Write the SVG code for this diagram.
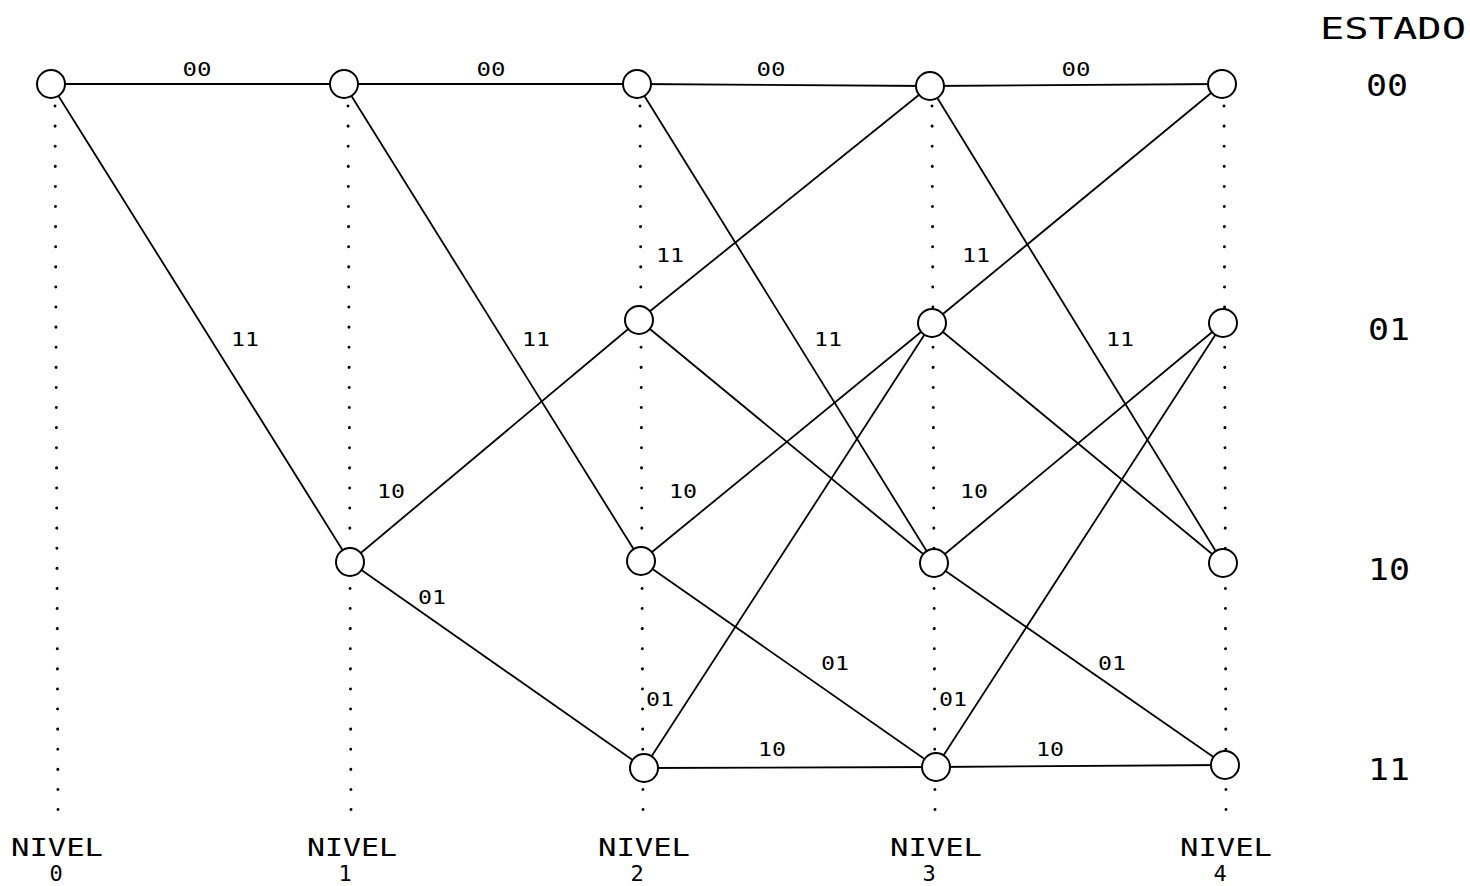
<svg xmlns="http://www.w3.org/2000/svg" width="1470" height="886" viewBox="0 0 1470 886">
<style>
.e{stroke:#000;stroke-width:1.8;fill:none}
.d{stroke:#000;stroke-width:3;stroke-linecap:round;stroke-dasharray:0.1 20;fill:none}
.n{fill:#fff;stroke:#000;stroke-width:2}
.t{font-family:"DejaVu Sans Mono","Liberation Mono",monospace;fill:#000;text-anchor:middle}
.el{font-size:19px}
.lv{font-size:24px}
.dg{font-size:22px}
.st{font-size:30px}
</style>
<rect width="1470" height="886" fill="#fff"/>
<g id="grid">
<line class="d" x1="55" y1="106" x2="58" y2="812"/>
<line class="d" x1="348" y1="106" x2="351" y2="812"/>
<line class="d" x1="640" y1="106" x2="643" y2="812"/>
<line class="d" x1="932" y1="106" x2="935" y2="812"/>
<line class="d" x1="1224" y1="106" x2="1226" y2="812"/>
</g>
<g id="connectors">
<line class="e" x1="51" y1="84" x2="344" y2="84"/>
<line class="e" x1="51" y1="84" x2="350" y2="562"/>
<line class="e" x1="344" y1="84" x2="637" y2="84"/>
<line class="e" x1="344" y1="84" x2="641" y2="561"/>
<line class="e" x1="350" y1="562" x2="639" y2="320"/>
<line class="e" x1="350" y1="562" x2="644" y2="768"/>
<line class="e" x1="637" y1="84" x2="930" y2="86"/>
<line class="e" x1="637" y1="84" x2="934" y2="563"/>
<line class="e" x1="639" y1="320" x2="930" y2="86"/>
<line class="e" x1="639" y1="320" x2="934" y2="563"/>
<line class="e" x1="641" y1="561" x2="932" y2="323"/>
<line class="e" x1="641" y1="561" x2="936" y2="767"/>
<line class="e" x1="644" y1="768" x2="932" y2="323"/>
<line class="e" x1="644" y1="768" x2="936" y2="767"/>
<line class="e" x1="930" y1="86" x2="1222" y2="84"/>
<line class="e" x1="930" y1="86" x2="1223" y2="563"/>
<line class="e" x1="932" y1="323" x2="1222" y2="84"/>
<line class="e" x1="932" y1="323" x2="1223" y2="563"/>
<line class="e" x1="934" y1="563" x2="1223" y2="323"/>
<line class="e" x1="934" y1="563" x2="1225" y2="765"/>
<line class="e" x1="936" y1="767" x2="1223" y2="323"/>
<line class="e" x1="936" y1="767" x2="1225" y2="765"/>
</g>
<g id="edge-labels">
<text class="t el" x="197" y="76" textLength="29" lengthAdjust="spacingAndGlyphs">00</text>
<text class="t el" x="491" y="76" textLength="29" lengthAdjust="spacingAndGlyphs">00</text>
<text class="t el" x="771" y="76" textLength="29" lengthAdjust="spacingAndGlyphs">00</text>
<text class="t el" x="1076" y="76" textLength="29" lengthAdjust="spacingAndGlyphs">00</text>
<text class="t el" x="245" y="346" textLength="28" lengthAdjust="spacingAndGlyphs">11</text>
<text class="t el" x="536" y="346" textLength="28" lengthAdjust="spacingAndGlyphs">11</text>
<text class="t el" x="828" y="346" textLength="28" lengthAdjust="spacingAndGlyphs">11</text>
<text class="t el" x="1120" y="346" textLength="28" lengthAdjust="spacingAndGlyphs">11</text>
<text class="t el" x="670" y="262" textLength="28" lengthAdjust="spacingAndGlyphs">11</text>
<text class="t el" x="976" y="262" textLength="28" lengthAdjust="spacingAndGlyphs">11</text>
<text class="t el" x="391" y="498" textLength="28" lengthAdjust="spacingAndGlyphs">10</text>
<text class="t el" x="683" y="498" textLength="28" lengthAdjust="spacingAndGlyphs">10</text>
<text class="t el" x="974" y="498" textLength="28" lengthAdjust="spacingAndGlyphs">10</text>
<text class="t el" x="432" y="604" textLength="28" lengthAdjust="spacingAndGlyphs">01</text>
<text class="t el" x="835" y="670" textLength="28" lengthAdjust="spacingAndGlyphs">01</text>
<text class="t el" x="1112" y="670" textLength="28" lengthAdjust="spacingAndGlyphs">01</text>
<text class="t el" x="660" y="706" textLength="28" lengthAdjust="spacingAndGlyphs">01</text>
<text class="t el" x="953" y="706" textLength="28" lengthAdjust="spacingAndGlyphs">01</text>
<text class="t el" x="772" y="756" textLength="28" lengthAdjust="spacingAndGlyphs">10</text>
<text class="t el" x="1050" y="756" textLength="28" lengthAdjust="spacingAndGlyphs">10</text>
</g>
<g id="n0-00"><circle class="n" cx="51" cy="84" r="14"/></g>
<g id="n1-00"><circle class="n" cx="344" cy="84" r="14"/></g>
<g id="n1-10"><circle class="n" cx="350" cy="562" r="14"/></g>
<g id="n2-00"><circle class="n" cx="637" cy="84" r="14"/></g>
<g id="n2-01"><circle class="n" cx="639" cy="320" r="14"/></g>
<g id="n2-10"><circle class="n" cx="641" cy="561" r="14"/></g>
<g id="n2-11"><circle class="n" cx="644" cy="768" r="14"/></g>
<g id="n3-00"><circle class="n" cx="930" cy="86" r="14"/></g>
<g id="n3-01"><circle class="n" cx="932" cy="323" r="14"/></g>
<g id="n3-10"><circle class="n" cx="934" cy="563" r="14"/></g>
<g id="n3-11"><circle class="n" cx="936" cy="767" r="14"/></g>
<g id="n4-00"><circle class="n" cx="1222" cy="84" r="14"/></g>
<g id="n4-01"><circle class="n" cx="1223" cy="323" r="14"/></g>
<g id="n4-10"><circle class="n" cx="1223" cy="563" r="14"/></g>
<g id="n4-11"><circle class="n" cx="1225" cy="765" r="14"/></g>
<g id="level-labels">
<text class="t lv" x="57" y="856" textLength="92" lengthAdjust="spacingAndGlyphs">NIVEL</text>
<text class="t dg" x="56" y="881">0</text>
<text class="t lv" x="352" y="856" textLength="90" lengthAdjust="spacingAndGlyphs">NIVEL</text>
<text class="t dg" x="345" y="881">1</text>
<text class="t lv" x="644" y="856" textLength="92" lengthAdjust="spacingAndGlyphs">NIVEL</text>
<text class="t dg" x="637" y="881">2</text>
<text class="t lv" x="936" y="856" textLength="92" lengthAdjust="spacingAndGlyphs">NIVEL</text>
<text class="t dg" x="929" y="881">3</text>
<text class="t lv" x="1226" y="856" textLength="92" lengthAdjust="spacingAndGlyphs">NIVEL</text>
<text class="t dg" x="1220" y="881">4</text>
</g>
<g id="state-labels">
<text class="t st" x="1393" y="39" textLength="146" lengthAdjust="spacingAndGlyphs">ESTADO</text>
<text class="t st" x="1387" y="96" textLength="42" lengthAdjust="spacingAndGlyphs">00</text>
<text class="t st" x="1389" y="340" textLength="42" lengthAdjust="spacingAndGlyphs">01</text>
<text class="t st" x="1389" y="580" textLength="42" lengthAdjust="spacingAndGlyphs">10</text>
<text class="t st" x="1389" y="780" textLength="42" lengthAdjust="spacingAndGlyphs">11</text>
</g>
</svg>
